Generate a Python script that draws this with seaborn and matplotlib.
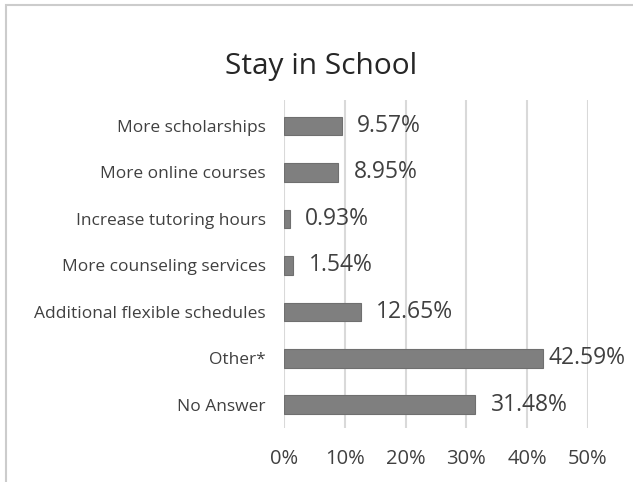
import matplotlib
matplotlib.use('Agg')
import matplotlib.pyplot as plt
import pandas as pd
import seaborn as sns
from matplotlib.patches import Rectangle

# data
categories = ['More scholarships', 'More online courses', 'Increase tutoring hours',
              'More counseling services', 'Additional flexible schedules', 'Other*', 'No Answer']
values = [9.57, 8.95, 0.93, 1.54, 12.65, 42.59, 31.48]
x_ticks = [0, 10, 20, 30, 40, 50]

df = pd.DataFrame({'category': categories, 'value': values})

sns.set_theme(style='white')
plt.rcParams['font.family'] = ['Open Sans', 'DejaVu Sans']

fig = plt.figure(figsize=(6.33, 4.82), dpi=100)
ax = fig.add_axes([0.4487, 0.112, 0.480, 0.6805])

sns.barplot(data=df, x='value', y='category', orient='h', color='#7f7f7f',
            width=0.4, saturation=1, edgecolor='#6f6f6f', linewidth=0.8, ax=ax, zorder=3)

ax.set_xlim(0, 50)
ax.set_ylim(6.5, -0.56)
ax.set_xticks(x_ticks)
ax.set_xticklabels([f'{t}%' for t in x_ticks], fontsize=14.5, color='#404040')
ax.tick_params(axis='x', length=0, pad=15)
ax.tick_params(axis='y', length=0, pad=13, labelsize=12.5, labelcolor='#404040')
ax.set_xlabel('')
ax.set_ylabel('')
for s in ax.spines.values():
    s.set_visible(False)
ax.xaxis.grid(True, color='#d9d9d9', linewidth=1.5, zorder=0)
ax.set_axisbelow(True)

for i, v in enumerate(values):
    gap = 1.0 if v > 40 else 2.5
    ax.text(v + gap, i, f'{v:.2f}%', va='center', ha='left', fontsize=16.5, color='#404040')

fig.text(0.507, 0.862, 'Stay in School', ha='center', va='center', fontsize=21.5, color='#262626')

# outer chart frame
fig.patches.append(Rectangle((6 / 633, -0.1), 1.1, 1 - 5 / 482 + 0.1, transform=fig.transFigure,
                             fill=False, edgecolor='#cccccc', linewidth=1.5))

fig.savefig('out.png', dpi=100)
